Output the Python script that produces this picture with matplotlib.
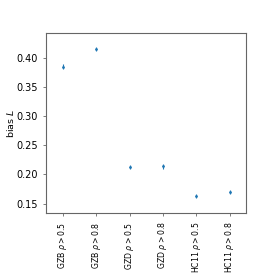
import numpy as np
import matplotlib
matplotlib.use("Agg")
import matplotlib.pyplot as plt

labels = [r"GZB $\rho>0.5$", r"GZB $\rho>0.8$", r"GZD $\rho>0.5$",
          r"GZD $\rho>0.8$", r"HC11 $\rho>0.5$", r"HC11 $\rho>0.8$"]
bias = [0.385, 0.415, 0.213, 0.214, 0.163, 0.170]
err = [0.004, 0.003, 0.004, 0.004, 0.004, 0.004]

fig = plt.figure(figsize=(2.74, 2.74), dpi=100)
ax = fig.add_axes([0.169, 0.221, 0.730, 0.659])
x = np.arange(len(labels))
ax.errorbar(x, bias, yerr=err, fmt='.', markersize=2, elinewidth=0.8, color='tab:blue')
ax.set_xlim(-0.5, len(labels) - 0.5)
ax.set_ylim(0.133, 0.443)
ax.set_xticks(x)
ax.set_xticklabels(labels, rotation=90, fontsize=5.6)
ax.set_yticks([0.15, 0.20, 0.25, 0.30, 0.35, 0.40])
ax.tick_params(axis='y', labelsize=7)
ax.tick_params(length=2.5, width=0.6, color='0.4')
ax.set_ylabel(r"bias $L$", fontsize=6.8)
ax.yaxis.set_label_coords(-0.15, 0.5)
for s in ax.spines.values():
    s.set_color('0.4')
    s.set_linewidth(0.8)
fig.savefig("out.png", dpi=100)
